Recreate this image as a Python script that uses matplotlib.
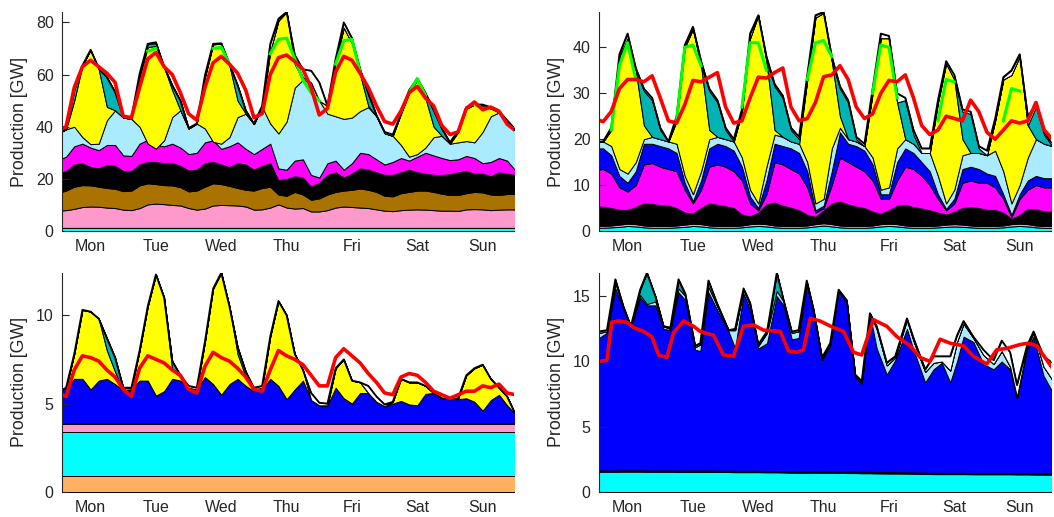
import numpy as np
import matplotlib
matplotlib.use("Agg")
import matplotlib.pyplot as plt

nan = np.nan

# hourly grid read every 3 h (hour 0 = Monday 00:00)
hours = np.arange(0, 169, 3)
day_names = ["Mon", "Tue", "Wed", "Thu", "Fri", "Sat", "Sun"]
day_ticks = [12, 36, 60, 84, 108, 132, 156]

# ---------------- top left panel: layer tops [GW] ----------------
tl_cyan = 1.2
tl_pink_top = [7.8, 8.0, 8.5, 9.2, 9.4, 9.3, 9.0, 8.8,
               8.2, 8.0, 8.8, 10.2, 10.5, 10.3, 10.0, 9.8,
               8.8, 8.2, 8.6, 9.8, 10.0, 9.9, 9.8, 9.4,
               8.2, 8.3, 9.0, 10.2, 9.0, 8.6, 8.8, 7.5,
               7.5, 8.0, 9.0, 9.4, 9.2, 9.0, 8.8, 8.3,
               7.8, 7.6, 8.0, 8.2, 8.3, 8.2, 8.0, 7.8,
               7.8, 7.7, 8.3, 8.4, 8.3, 8.0, 8.2, 8.3,
               8.3]
tl_brown_top = [14.6, 15.5, 17.0, 17.6, 17.5, 17.0, 16.5, 16.2,
                15.3, 15.5, 17.5, 18.3, 18.0, 17.6, 17.5, 16.8,
                15.2, 15.5, 17.0, 18.3, 18.0, 17.3, 16.5, 15.8,
                15.5, 16.5, 17.0, 14.0, 13.5, 15.0, 14.0, 12.0,
                12.5, 14.0, 15.0, 15.5, 15.8, 16.3, 15.8, 15.0,
                13.5, 13.3, 14.5, 15.0, 15.5, 15.5, 15.0, 14.3,
                13.8, 13.8, 14.5, 15.0, 14.8, 14.0, 13.8, 14.2,
                14.2]
tl_black_top = [22.0, 23.0, 25.5, 26.0, 24.5, 24.0, 25.3, 25.0,
                23.0, 23.0, 25.5, 26.5, 26.5, 26.0, 26.0, 25.0,
                23.2, 23.5, 26.0, 26.5, 25.5, 24.5, 26.0, 25.5,
                23.5, 25.0, 26.0, 19.5, 20.0, 21.0, 20.5, 17.0,
                18.5, 21.5, 22.5, 20.5, 22.0, 24.0, 23.5, 22.5,
                21.5, 21.5, 22.5, 23.5, 22.5, 22.0, 21.5, 21.5,
                21.8, 22.5, 23.0, 22.0, 22.0, 21.0, 22.5, 22.0,
                21.5]
tl_magenta_top = [27.2, 28.5, 32.5, 33.5, 32.0, 31.0, 33.0, 33.0,
                  29.0, 28.8, 33.5, 35.0, 33.0, 32.5, 33.5, 32.0,
                  29.5, 30.0, 34.0, 34.8, 31.5, 32.5, 34.0, 31.5,
                  29.5, 31.5, 33.5, 24.0, 23.5, 27.0, 27.5, 21.5,
                  20.5, 26.0, 27.0, 23.5, 26.0, 30.0, 29.5, 27.5,
                  25.5, 26.5, 28.0, 27.0, 28.5, 30.0, 29.0, 28.0,
                  27.2, 27.5, 28.8, 28.0, 26.0, 26.5, 28.0, 27.0,
                  23.3]
tl_lightblue_top = [37.4, 39, 40, 36, 33.3, 33.5, 42.5, 46.3,
                    43.5, 43, 40, 33.5, 31.6, 34.8, 43.7, 46.3,
                    39.3, 41.2, 39.3, 34.2, 33.5, 36, 43.7, 45,
                    41, 47.6, 41.2, 37.4, 42, 55, 58, 57,
                    50, 45, 44, 43, 43.5, 46, 47.5, 44,
                    37.5, 36.5, 33, 28.5, 29.5, 32, 36, 36.5,
                    33.5, 34, 34.5, 34, 38, 44, 45.5, 42,
                    38.5]
tl_yellow_top = [37.4, 39, 50, 63.5, 69.5, 62, 47.6, 46.3,
                 43.5, 43, 59, 70.5, 71, 62.9, 54, 46.3,
                 39.3, 41.2, 59, 71.5, 72, 63.5, 50, 45,
                 41, 47.6, 69, 80.7, 84, 64, 58, 57,
                 50, 48, 65, 78, 72, 60, 48, 44,
                 37.5, 36.5, 45, 53, 58, 51, 40, 36.5,
                 33.5, 38, 47, 48.5, 48, 47, 45.5, 42,
                 38.5]
tl_teal_top = [37.4, 39, 54, 63.5, 69.5, 62, 59, 53.3,
               43.5, 43, 60.3, 71.8, 72, 62.9, 55.9, 50,
               39.3, 41.2, 59, 71.8, 72, 63.5, 55.9, 46,
               41, 47.6, 69, 80.7, 84, 66, 59, 57,
               50, 48, 65, 78, 72, 62, 52, 44,
               37.5, 36.5, 45, 53, 58, 52, 46, 39,
               33.5, 38, 47, 48.5, 48, 47, 45.5, 42,
               38.5]
tl_total = [37.5, 39.5, 54.5, 63.5, 69.5, 62.5, 59, 53.3,
            44, 43.5, 60.3, 71.8, 72.4, 63, 55.9, 50,
            39.5, 41.2, 59.7, 71.8, 72, 64.2, 55.9, 46.3,
            41.2, 48, 71.8, 81.4, 84, 67.5, 62, 61.5,
            57, 48, 66, 80, 74, 62, 53, 44.5,
            38, 37, 45, 54, 58.5, 53, 46.5, 39.5,
            34, 38.5, 47.5, 48.5, 48.5, 47.5, 46, 42.5,
            39]
tl_green = [nan, nan, nan, nan, nan, nan, nan, nan,
            nan, nan, nan, 69, 70, nan, nan, nan,
            nan, nan, nan, 70, 70.5, 64, nan, nan,
            nan, nan, 68, 73.5, 74, 66, 58, 53,
            50, nan, 64, 73, 73.5, 61, nan, nan,
            nan, nan, nan, 53, 58.5, 52, nan, nan,
            nan, nan, nan, 48.5, 47, nan, nan, nan,
            nan]
tl_red = [38.5, 40, 55, 63, 65.5, 63, 60.5, 57,
          44, 43.5, 55, 66, 68.5, 63, 60, 53,
          45, 42.5, 55, 64.5, 67, 64, 60.5, 54,
          43.5, 45, 60, 66.5, 67.5, 65, 62, 55,
          44.5, 47, 61, 67, 65.5, 60.5, 55, 48,
          42, 41, 46, 53, 55.5, 51, 48, 40.5,
          37, 38, 47, 49.5, 46.5, 47.5, 46, 41,
          38.5]

# ---------------- top right panel ----------------
tr_cyan_top = [0.7, 0.7, 0.8, 0.9, 1.1, 1.0, 0.8, 0.7,
               0.7, 0.7, 0.8, 0.9, 1.1, 1.0, 0.8, 0.7,
               0.7, 0.7, 0.8, 1.0, 1.1, 1.0, 0.8, 0.7,
               0.7, 0.7, 0.8, 1.0, 1.2, 1.0, 0.8, 0.7,
               0.7, 0.7, 0.8, 1.0, 1.1, 1.0, 0.8, 0.7,
               0.7, 0.7, 0.8, 0.9, 1.0, 0.9, 0.8, 0.7,
               0.7, 0.7, 0.8, 1.0, 1.1, 1.0, 0.8, 0.7,
               0.7]
tr_pink_top = [1.1, 1.1, 1.2, 1.4, 1.6, 1.5, 1.2, 1.1,
               1.1, 1.1, 1.2, 1.4, 1.6, 1.5, 1.2, 1.1,
               1.1, 1.1, 1.2, 1.5, 1.6, 1.5, 1.2, 1.1,
               1.1, 1.1, 1.2, 1.5, 1.7, 1.5, 1.2, 1.1,
               1.1, 1.1, 1.2, 1.5, 1.6, 1.5, 1.2, 1.1,
               1.1, 1.1, 1.2, 1.4, 1.5, 1.4, 1.2, 1.1,
               1.1, 1.1, 1.2, 1.5, 1.6, 1.5, 1.2, 1.1,
               1.1]
tr_black_top = [5.3, 5.3, 5.0, 4.6, 4.6, 5.2, 6.0, 5.9,
                5.6, 5.5, 5.0, 4.0, 3.8, 5.0, 6.0, 5.7,
                5.4, 5.0, 3.6, 3.2, 4.0, 5.8, 6.2, 5.5,
                5.1, 4.5, 3.5, 3.1, 4.5, 6.0, 6.4, 5.8,
                5.3, 5.0, 4.2, 3.8, 4.5, 5.5, 5.7, 5.2,
                4.9, 4.5, 4.0, 3.6, 4.2, 5.0, 5.2, 5.0,
                4.6, 4.6, 4.0, 2.6, 3.5, 4.8, 4.7, 4.3,
                4.2]
tr_magenta_top = [13.3, 13.5, 12.5, 9.5, 8.6, 10.0, 14.5, 14.8,
                  14.0, 13.5, 13.0, 9.0, 6.0, 9.0, 14.0, 14.5,
                  14.0, 13.0, 11.0, 6.0, 4.5, 8.0, 15.0, 14.5,
                  13.5, 12.5, 9.5, 4.0, 5.0, 10.0, 16.0, 15.0,
                  14.0, 13.0, 11.0, 7.0, 7.0, 11.0, 14.0, 13.5,
                  12.0, 10.0, 7.0, 4.5, 6.0, 10.5, 11.0, 10.5,
                  10.5, 9.5, 7.0, 3.0, 7.0, 9.0, 10.0, 9.5,
                  9.5]
tr_blue_top = [18.0, 18.0, 16.5, 12.0, 10.5, 13.0, 19.0, 19.0,
               18.5, 18.0, 17.0, 10.5, 6.5, 11.0, 18.0, 19.0,
               18.5, 17.5, 14.0, 7.5, 5.0, 11.0, 19.0, 18.5,
               18.0, 17.0, 13.0, 4.5, 5.5, 13.0, 21.5, 19.0,
               18.5, 17.5, 14.5, 8.0, 8.0, 15.0, 18.0, 17.0,
               15.0, 13.0, 8.0, 4.8, 7.0, 13.5, 14.0, 13.5,
               12.5, 12.0, 8.0, 3.5, 8.0, 11.0, 12.0, 11.5,
               11.5]
tr_lightblue_top = [19.5, 19.5, 18.5, 13.5, 12.5, 15.0, 20.0, 20.5,
                    20.0, 19.5, 19.0, 12.0, 8.0, 13.0, 20.0, 20.5,
                    20.0, 19.5, 16.0, 9.0, 6.0, 14.0, 21.0, 20.5,
                    19.5, 19.0, 15.0, 6.0, 7.0, 18.0, 22.5, 20.0,
                    19.5, 18.5, 16.0, 9.0, 9.5, 18.0, 20.0, 19.0,
                    17.0, 17.0, 12.0, 6.0, 9.0, 16.5, 17.0, 17.0,
                    16.5, 17.5, 13.0, 6.0, 10.0, 16.0, 20.0, 19.0,
                    18.5]
tr_yellow_top = [19.5, 19.5, 22.0, 38.0, 42.0, 35.0, 23.0, 20.5,
                 20.0, 19.5, 24.0, 40.0, 44.0, 36.0, 22.0, 20.5,
                 20.0, 19.5, 26.0, 42.0, 47.0, 37.0, 22.0, 20.5,
                 19.5, 19.0, 33.0, 46.5, 47.5, 37.0, 25.0, 20.0,
                 19.5, 18.5, 30.0, 42.0, 42.0, 28.0, 20.0, 19.0,
                 17.0, 17.0, 28.0, 36.5, 33.0, 20.0, 17.0, 17.0,
                 16.5, 24.0, 33.0, 34.0, 38.0, 23.0, 20.0, 19.0,
                 18.5]
tr_teal_top = [19.5, 19.5, 22.0, 38.0, 42.0, 35.0, 30.5, 28.5,
               22.0, 19.5, 24.0, 40.0, 44.0, 36.0, 30.5, 28.0,
               22.0, 19.5, 26.0, 42.0, 47.0, 37.0, 31.5, 29.0,
               22.0, 20.0, 33.0, 46.5, 47.5, 37.0, 31.0, 28.0,
               20.0, 18.5, 30.0, 42.0, 42.0, 28.0, 28.5, 21.0,
               17.0, 17.0, 28.0, 36.5, 33.0, 26.0, 25.5, 18.0,
               16.5, 24.0, 33.0, 34.0, 38.0, 23.0, 27.0, 21.0,
               18.5]
tr_total = [19.5, 19.5, 22.5, 38.5, 43.0, 35.5, 31.0, 29.0,
            22.5, 19.5, 25.0, 40.5, 44.5, 37.0, 31.0, 28.5,
            22.5, 20.0, 26.5, 43.0, 47.0, 38.0, 32.0, 29.5,
            22.5, 20.5, 34.0, 47.0, 47.7, 38.0, 31.5, 28.5,
            20.5, 19.0, 31.0, 43.0, 42.5, 30.0, 29.0, 22.0,
            18.0, 18.0, 28.5, 37.0, 34.0, 26.5, 26.0, 18.5,
            17.5, 24.5, 33.5, 35.0, 38.5, 25.0, 27.5, 21.5,
            19.0]
tr_green = [nan, nan, 22, 36, 41, 33, nan, nan,
            nan, nan, 24, 40, 40.5, 36, nan, nan,
            nan, nan, 27, 41, 41, 35, nan, nan,
            nan, nan, 33, 41, 41.5, 38, nan, nan,
            nan, nan, 30, 40.5, 40, 29, nan, nan,
            nan, nan, 24, 33, 32.5, nan, nan, nan,
            nan, nan, 24, 31, 30.5, nan, nan, nan,
            nan]
tr_red = [24.5, 23.8, 26, 31, 33, 33, 32.5, 33.8,
          29, 24, 23.5, 27.5, 32.8, 32.5, 33.5, 34.5,
          27, 23.5, 24, 29, 33.5, 33.3, 34.5, 35.5,
          27, 24, 24.5, 28, 33.6, 34, 36, 33,
          27, 24.5, 25.5, 30, 32.8, 32.5, 34, 29,
          23, 21, 22, 25, 24.5, 24, 28.5, 26,
          21.5, 20, 22, 24, 23.5, 24, 28, 22,
          20]

# ---------------- bottom left panel ----------------
bl_orange = 0.93
bl_cyan_top = 3.42
bl_pink_top = 3.87
bl_blue_top = [5.64, 5.9, 6.4, 6.4, 5.8, 6.3, 6.4, 6.1,
               5.75, 5.8, 6.3, 6.3, 5.45, 5.7, 6.4, 6.3,
               5.85, 5.8, 6.5, 6.1, 5.5, 6.1, 6.4, 6.0,
               5.7, 5.8, 6.4, 6.0, 5.25, 5.8, 6.3, 5.2,
               4.9, 4.9, 5.9, 5.3, 5.0, 5.6, 5.6, 5.1,
               4.85, 5.0, 5.15, 4.95, 4.9, 5.55, 5.6, 5.3,
               5.25, 5.25, 5.3, 5.1, 4.6, 5.2, 5.5, 4.9,
               4.4]
bl_yellow_top = [5.64, 5.9, 7.8, 10.3, 10.2, 9.8, 8.0, 6.8,
                 5.75, 5.8, 8.0, 10.5, 12.3, 11.0, 6.9, 6.5,
                 5.85, 5.8, 8.5, 11.5, 12.4, 10.5, 7.8, 6.5,
                 5.7, 5.9, 8.8, 10.8, 10.0, 7.8, 6.9, 5.2,
                 4.9, 4.9, 7.0, 7.5, 6.3, 6.2, 5.6, 5.1,
                 4.85, 5.1, 6.4, 6.2, 6.2, 6.0, 5.6, 5.3,
                 5.25, 5.3, 6.6, 7.0, 7.2, 6.4, 5.9, 5.4,
                 4.4]
bl_teal_top = [5.64, 5.9, 7.8, 10.3, 10.2, 9.8, 8.7, 7.6,
               5.9, 5.9, 8.0, 10.5, 12.3, 11.0, 7.4, 6.6,
               5.9, 5.8, 8.5, 11.5, 12.4, 10.5, 8.2, 6.8,
               5.8, 5.9, 8.8, 10.8, 10.0, 7.8, 6.9, 5.2,
               4.9, 4.9, 7.0, 7.5, 6.3, 6.2, 5.6, 5.1,
               4.85, 5.1, 6.4, 6.2, 6.2, 6.0, 5.6, 5.3,
               5.25, 5.3, 6.6, 7.0, 7.2, 6.4, 5.9, 5.4,
               4.4]
bl_total = [5.64, 5.9, 7.8, 10.3, 10.2, 9.8, 8.7, 7.6,
            5.9, 5.9, 8.0, 10.5, 12.3, 11.0, 7.4, 6.6,
            6.0, 5.9, 8.5, 11.5, 12.4, 10.5, 8.2, 6.8,
            5.9, 6.0, 8.8, 10.8, 10.0, 7.8, 6.9, 5.6,
            5.05, 5.0, 7.0, 7.5, 6.3, 6.2, 6.0, 5.4,
            4.95, 5.1, 6.4, 6.2, 6.2, 6.0, 5.6, 5.3,
            5.25, 5.3, 6.6, 7.0, 7.2, 6.4, 5.9, 5.4,
            4.4]
bl_red = [5.6, 5.4, 6.9, 7.7, 7.6, 7.4, 6.9, 6.5,
          5.8, 5.4, 7.0, 7.7, 7.5, 7.3, 6.9, 6.6,
          5.8, 5.6, 7.1, 7.9, 7.6, 7.4, 7.0, 6.5,
          5.8, 5.7, 6.9, 8.0, 7.7, 7.5, 7.2, 6.6,
          6.0, 6.0, 7.6, 8.1, 7.7, 7.3, 6.7, 6.2,
          5.6, 5.5, 6.5, 6.7, 6.6, 6.2, 5.7, 5.5,
          5.3, 5.5, 5.7, 5.7, 6.0, 5.9, 6.1, 5.6,
          5.5]

# ---------------- bottom right panel (own read-off times) ----------------
br_hours = [1.5, 4.4, 7.5, 10.5, 13.2, 16.6, 19.1, 22.2,
            25.2, 27.7, 30.7, 33.2, 36.8, 38.7, 41.7, 44.8,
            49.1, 51.5, 54.6, 57.0, 60.0, 63.2, 66.8, 69.3,
            72.3, 74.8, 77.8, 80.3, 83.4, 86.4, 89.5, 92.5,
            95.6, 98.0, 101.0, 103.5, 107.2, 110.3, 114.6, 117.0,
            121.3, 124.4, 127.4, 130.5, 133.0, 135.4, 139.0, 142.7,
            146.4, 149.4, 152.5, 155.0, 158.7, 161.1, 164.8, 168.0]
br_cyan_top = [1.55, 1.55, 1.55, 1.56, 1.56, 1.56, 1.55, 1.55,
               1.55, 1.55, 1.54, 1.54, 1.54, 1.54, 1.54, 1.53,
               1.53, 1.52, 1.52, 1.52, 1.52, 1.51, 1.51, 1.50,
               1.48, 1.47, 1.47, 1.48, 1.47, 1.47, 1.46, 1.45,
               1.45, 1.44, 1.44, 1.43, 1.42, 1.42, 1.41, 1.40,
               1.38, 1.37, 1.37, 1.37, 1.37, 1.37, 1.36, 1.36,
               1.36, 1.36, 1.36, 1.35, 1.35, 1.34, 1.33, 1.33]
br_magenta_gw = 0.06
br_black_gw = 0.04
br_blue_top = [11.8, 12.2, 15.6, 14.0, 12.6, 14.9, 14.3, 14.3,
               12.5, 12.4, 15.3, 14.7, 10.9, 10.8, 15.3, 14.0,
               12.3, 11.0, 15.2, 14.0, 11.0, 11.4, 15.0, 14.3,
               11.7, 11.8, 15.9, 13.7, 10.1, 11.2, 15.4, 14.5,
               8.8, 8.3, 13.6, 11.0, 9.0, 10.1, 12.5, 10.9,
               8.4, 9.4, 9.9, 8.4, 10.0, 11.9, 11.5, 9.8,
               9.4, 10.0, 9.4, 7.1, 10.9, 11.9, 8.9, 7.7]
br_lightblue_top = [12.2, 12.3, 16.0, 14.1, 12.7, 15.1, 14.4, 14.6,
                    12.7, 12.5, 15.6, 15.0, 11.1, 11.3, 15.7, 14.3,
                    12.4, 12.4, 15.5, 14.3, 11.2, 12.2, 15.4, 14.6,
                    12.2, 12.3, 16.1, 13.9, 10.2, 11.3, 15.5, 14.6,
                    8.9, 8.4, 13.7, 12.5, 9.7, 10.3, 13.2, 11.6,
                    9.2, 9.9, 10.0, 9.3, 11.5, 12.9, 11.8, 10.5,
                    9.8, 10.8, 9.6, 7.3, 11.1, 12.2, 9.6, 8.6]
br_teal_top = [12.2, 12.3, 16.2, 14.1, 12.7, 15.5, 16.8, 15.0,
               12.7, 12.5, 16.2, 15.0, 11.1, 11.3, 16.2, 14.3,
               12.4, 12.4, 15.5, 14.3, 11.2, 12.2, 16.8, 14.6,
               12.2, 12.3, 16.1, 13.9, 10.2, 11.3, 15.5, 14.6,
               8.9, 8.4, 13.7, 12.5, 9.7, 10.3, 13.2, 11.6,
               9.2, 9.9, 10.0, 9.3, 11.5, 12.9, 11.8, 10.5,
               9.8, 10.8, 9.6, 7.3, 11.1, 12.2, 9.6, 8.6]
br_total = [12.3, 12.4, 16.3, 14.2, 12.7, 15.5, 16.8, 15.0,
            12.7, 12.6, 16.3, 15.2, 11.2, 11.4, 16.2, 14.5,
            12.4, 12.5, 15.6, 14.5, 11.3, 12.3, 16.8, 14.7,
            12.3, 12.4, 16.2, 14.0, 10.3, 11.4, 15.5, 14.7,
            9.0, 8.5, 13.7, 12.7, 9.9, 10.4, 13.3, 11.8,
            9.4, 10.4, 10.4, 10.4, 12.0, 13.1, 11.9, 10.9,
            10.1, 11.6, 10.7, 8.2, 11.2, 12.3, 10.4, 9.9]
br_red_hours = [1.5, 4.4, 6.2, 8.7, 11.8, 14.2, 17.9, 20.9,
                23.4, 26.4, 28.9, 32.6, 36.2, 38.7, 43.6, 47.2,
                50.9, 54.6, 58.3, 61.9, 68.1, 71.1, 74.2, 76.6,
                79.1, 82.7, 87.6, 91.3, 95.0, 98.0, 102.3, 107.2,
                110.9, 115.8, 119.5, 123.1, 126.8, 130.5, 135.4, 139.0,
                143.9, 147.6, 151.3, 156.2, 159.2, 162.3, 166.0, 168.0]
br_red = [10.0, 10.1, 13.0, 13.1, 13.0, 12.6, 12.3, 11.9,
          10.5, 10.3, 12.2, 13.1, 12.7, 12.3, 12.0, 10.5,
          10.4, 12.7, 12.8, 12.4, 12.3, 10.8, 10.7, 10.9,
          13.3, 13.1, 12.6, 12.3, 10.7, 10.5, 13.2, 12.7,
          11.9, 11.2, 10.3, 10.0, 11.7, 11.4, 11.2, 10.4,
          9.8, 10.9, 11.0, 11.3, 11.4, 11.2, 10.1, 9.5]

# colours
CYAN = "#00FFFF"
PINK = "#FF99CC"
BROWN = "#AA7300"
BLACK = "#000000"
MAGENTA = "#FF00FF"
LIGHTBLUE = "#AAEBFF"
YELLOW = "#FFFF00"
TEAL = "#00B4B4"
BLUE = "#0000FF"
ORANGE = "#FFB062"
GREEN = "#00FF00"
RED = "#FF0000"
TEXT = "#262626"

plt.rcParams["font.family"] = ["Liberation Sans", "DejaVu Sans"]


def draw_stack(ax, x, tops, colors):
    x = np.asarray(x, float)
    lower = np.zeros(len(x))
    for top, c in zip(tops, colors):
        top = np.broadcast_to(np.asarray(top, float), x.shape)
        ax.fill_between(x, lower, top, facecolor=c, edgecolor="black", linewidth=0.7)
        lower = top
    ax.plot(x, lower, color="black", linewidth=1.3)
    return lower


def style(ax, yticks, ytop):
    ax.set_xlim(1.5, 167.5)
    ax.set_ylim(0, ytop)
    ax.set_xticks(day_ticks, day_names)
    ax.set_yticks(yticks)
    for s in ["top", "right", "bottom"]:
        ax.spines[s].set_visible(False)
    ax.spines["left"].set_color(TEXT)
    ax.spines["left"].set_linewidth(0.8)
    ax.tick_params(axis="x", length=0, pad=6, labelsize=11.5, colors=TEXT)
    ax.tick_params(axis="y", direction="in", length=5, width=0.8, pad=6,
                   labelsize=11.5, colors=TEXT)
    ax.set_ylabel("Production [GW]", fontsize=12.8, color=TEXT)
    ax.yaxis.set_label_coords(-0.076, 0.5)


fig = plt.figure(figsize=(10.54, 5.17), dpi=100)
ax_tl = fig.add_axes([0.0588, 0.5532, 0.4288, 0.4236])
ax_tr = fig.add_axes([0.5683, 0.5532, 0.4288, 0.4236])
ax_bl = fig.add_axes([0.0588, 0.0484, 0.4288, 0.4241])
ax_br = fig.add_axes([0.5683, 0.0484, 0.4288, 0.4241])

# top left
draw_stack(ax_tl, hours,
           [tl_cyan, tl_pink_top, tl_brown_top, tl_black_top, tl_magenta_top,
            tl_lightblue_top, tl_yellow_top, tl_teal_top, tl_total],
           [CYAN, PINK, BROWN, BLACK, MAGENTA, LIGHTBLUE, YELLOW, TEAL, "white"])
ax_tl.plot(hours, tl_green, color=GREEN, linewidth=2.2)
ax_tl.plot(hours, tl_red, color=RED, linewidth=2.6)
style(ax_tl, [0, 20, 40, 60, 80], max(tl_total))

# top right
draw_stack(ax_tr, hours,
           [tr_cyan_top, tr_pink_top, tr_black_top, tr_magenta_top, tr_blue_top,
            tr_lightblue_top, tr_yellow_top, tr_teal_top, tr_total],
           [CYAN, PINK, BLACK, MAGENTA, BLUE, LIGHTBLUE, YELLOW, TEAL, "white"])
ax_tr.plot(hours, tr_green, color=GREEN, linewidth=2.2)
ax_tr.plot(hours, tr_red, color=RED, linewidth=2.6)
style(ax_tr, [0, 10, 20, 30, 40], max(tr_total))

# bottom left
draw_stack(ax_bl, hours,
           [bl_orange, bl_cyan_top, bl_pink_top, bl_blue_top, bl_yellow_top,
            bl_teal_top, bl_total],
           [ORANGE, CYAN, PINK, BLUE, YELLOW, TEAL, "white"])
ax_bl.plot(hours, bl_red, color=RED, linewidth=2.6)
style(ax_bl, [0, 5, 10], max(bl_total))

# bottom right
br_cyan = np.array(br_cyan_top)
draw_stack(ax_br, br_hours,
           [br_cyan, br_cyan + br_magenta_gw, br_cyan + br_magenta_gw + br_black_gw,
            br_blue_top, br_lightblue_top, br_teal_top, br_total],
           [CYAN, MAGENTA, BLACK, BLUE, LIGHTBLUE, TEAL, "white"])
ax_br.plot(br_red_hours, br_red, color=RED, linewidth=2.6)
style(ax_br, [0, 5, 10, 15], max(br_total))

fig.savefig("out.png", dpi=100)
